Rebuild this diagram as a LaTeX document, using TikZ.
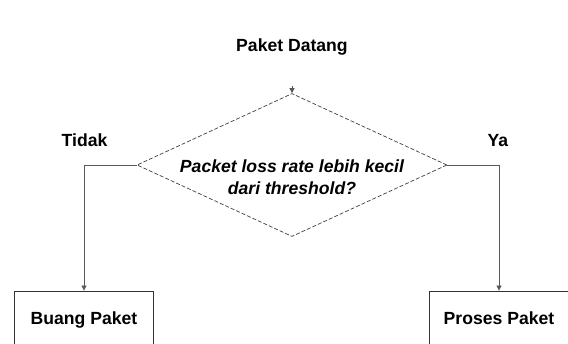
\documentclass[tikz,border=0pt]{standalone}
\usepackage{fontspec}
\setmainfont{Liberation Sans}
\usetikzlibrary{shapes.geometric,arrows.meta}
\begin{document}
\begin{tikzpicture}[x=1pt,y=-1pt,
  lbl/.style={font=\bfseries\fontsize{17.6}{22}\selectfont, inner sep=0pt},
  decision/.style={draw=black!75, dash pattern=on 4pt off 2pt, shape=diamond, minimum width=310pt, minimum height=143pt, inner sep=0pt, line width=0.7pt},
  procbox/.style={draw=black!80, line width=0.8pt, minimum width=139pt, minimum height=54pt, inner sep=0pt, text height=13pt, text depth=0pt, font=\bfseries\fontsize{17.6}{22}\selectfont},
  flow/.style={draw=black!65, line width=0.7pt, -{Triangle[length=5pt,width=5pt]}}
]
\useasboundingbox (0,0) rectangle (568,343);
\clip (0,0) rectangle (568,343);
\fill[white] (0,0) rectangle (568,343);
\node[lbl] (datang) at (292,47) {Paket Datang};
\node[decision] (d) at (292,165) {};
\node[lbl, font=\bfseries\itshape\fontsize{17.6}{22}\selectfont, align=center] (q) at (292,177) {Packet loss rate lebih kecil\\dari threshold?};
\coordinate (tip) at (292,86);
\draw[flow] (tip) -- (d.north);
\node[lbl, anchor=base] (tidak) at (84.5,146.5) {Tidak};
\node[lbl, anchor=base] (ya) at (498,146.5) {Ya};
\node[procbox] (buang) at (84,318) {Buang Paket};
\node[procbox] (proses) at (499,318) {Proses Paket};
\draw[flow] (d.west) -| (buang.north);
\draw[flow] (d.east) -| (proses.north);
\end{tikzpicture}
\end{document}
